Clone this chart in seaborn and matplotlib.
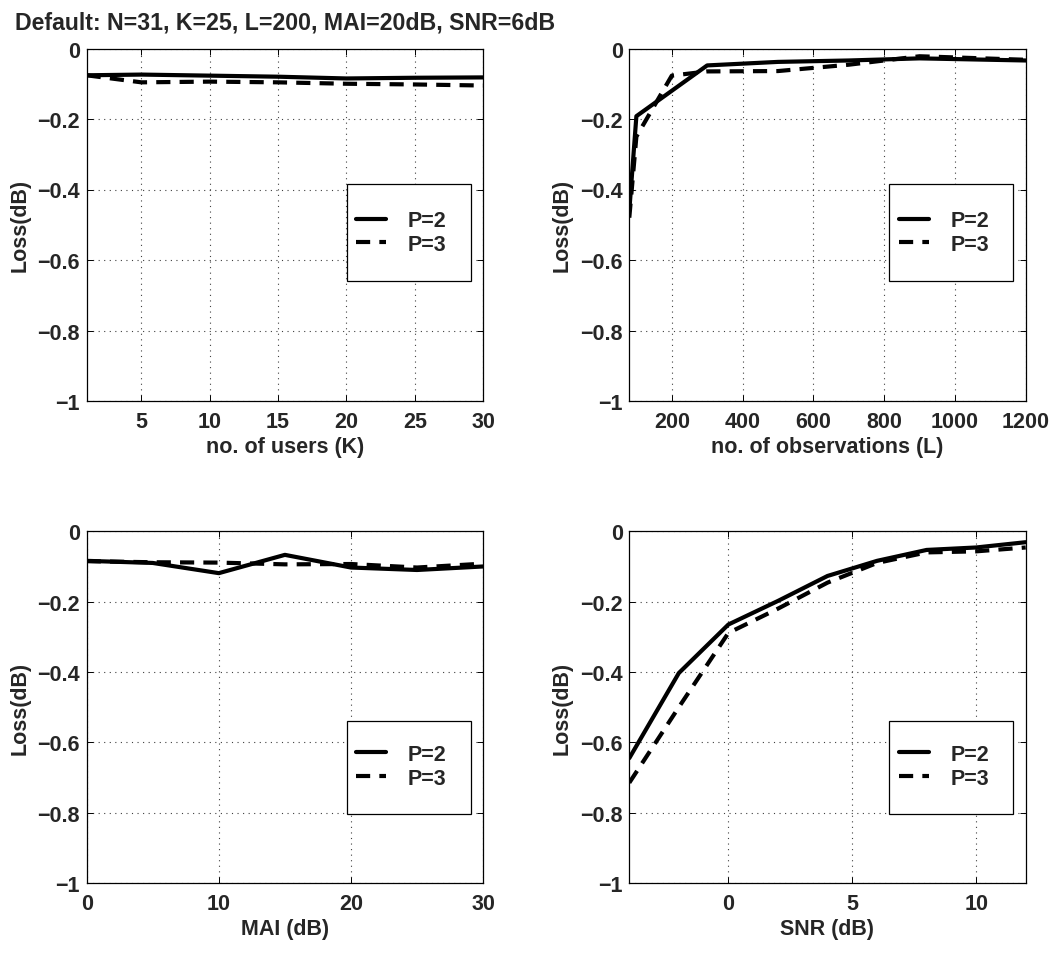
import numpy as np
import pandas as pd
import matplotlib
matplotlib.use("Agg")
import matplotlib.pyplot as plt
import seaborn as sns
from matplotlib.patches import Rectangle

# ---------------- data ----------------
title_text = "Default: N=31, K=25, L=200, MAI=20dB, SNR=6dB"
series_names = ["P=2", "P=3"]
y_label = "Loss(dB)"

users_K = [1, 5, 10, 15, 20, 25, 30]
loss_users_p2 = [-0.076, -0.074, -0.077, -0.080, -0.085, -0.083, -0.082]
loss_users_p3 = [-0.076, -0.096, -0.094, -0.096, -0.100, -0.102, -0.105]

obs_L = [80, 100, 200, 300, 500, 700, 900, 1200]
loss_obs_p2 = [-0.46, -0.192, -0.120, -0.048, -0.038, -0.034, -0.028, -0.034]
loss_obs_p3 = [-0.48, -0.250, -0.077, -0.065, -0.064, -0.046, -0.022, -0.032]

mai_dB = [0, 5, 10, 15, 20, 25, 30]
loss_mai_p2 = [-0.084, -0.090, -0.119, -0.067, -0.103, -0.110, -0.100]
loss_mai_p3 = [-0.085, -0.088, -0.089, -0.094, -0.093, -0.103, -0.092]

snr_dB = [-4, -2, 0, 2, 4, 6, 8, 10, 12]
loss_snr_p2 = [-0.645, -0.403, -0.265, -0.198, -0.127, -0.084, -0.053, -0.046, -0.031]
loss_snr_p3 = [-0.715, -0.500, -0.289, -0.220, -0.146, -0.090, -0.060, -0.057, -0.046]

y_ticks = [-1, -0.8, -0.6, -0.4, -0.2, 0]
y_tick_labels = ["\u22121", "\u22120.8", "\u22120.6", "\u22120.4", "\u22120.2", "0"]
users_ticks = [5, 10, 15, 20, 25, 30]
obs_ticks = [200, 400, 600, 800, 1000, 1200]
mai_ticks = [0, 10, 20, 30]
snr_ticks = [0, 5, 10]
x_labels = ["no. of users (K)", "no. of observations (L)", "MAI (dB)", "SNR (dB)"]

# ---------------- style ----------------
sns.set_style("ticks")
plt.rcParams["font.family"] = ["Liberation Sans", "DejaVu Sans"]
plt.rcParams["font.weight"] = "bold"
plt.rcParams["axes.labelweight"] = "bold"
plt.rcParams["axes.unicode_minus"] = True

FS = 15.5
fig = plt.figure(figsize=(10.55, 9.54), dpi=100)
W, H = 1055.0, 954.0

def fx(px):
    return px / W

def fy(py):
    return 1 - py / H

left_cols = [86.7, 629.3]
ax_w = 396.4
rows = [(49.5, 402.0), (532.3, 884.0)]

panels = [
    (users_K, loss_users_p2, loss_users_p3, users_ticks, (1, 30), x_labels[0], 0, 0),
    (obs_L, loss_obs_p2, loss_obs_p3, obs_ticks, (80, 1200), x_labels[1], 0, 1),
    (mai_dB, loss_mai_p2, loss_mai_p3, mai_ticks, (0, 30), x_labels[2], 1, 0),
    (snr_dB, loss_snr_p2, loss_snr_p3, snr_ticks, (-4, 12), x_labels[3], 1, 1),
]

# legend boxes (axes fraction)
legend_boxes = {
    0: dict(x0=0.656, x1=0.969, y0=0.340, y1=0.616, cy=0.478),
    1: dict(x0=0.656, x1=0.969, y0=0.196, y1=0.461, cy=0.332),
}

dash_p3 = (0, (3.4, 2.2))

for xs, s2, s3, xt, xl, xlab, r, c in panels:
    top, bot = rows[r]
    ax = fig.add_axes([fx(left_cols[c]), fy(bot), fx(ax_w), (bot - top) / H])
    df = pd.DataFrame({"x": list(xs) * 2,
                       "loss": list(s2) + list(s3),
                       "P": [series_names[0]] * len(xs) + [series_names[1]] * len(xs)})
    sns.lineplot(data=df[df.P == series_names[0]], x="x", y="loss", ax=ax,
                 color="black", lw=3.0, legend=False, errorbar=None, sort=False,
                 label=series_names[0])
    sns.lineplot(data=df[df.P == series_names[1]], x="x", y="loss", ax=ax,
                 color="black", lw=3.0, legend=False, errorbar=None, sort=False,
                 label=series_names[1], linestyle=dash_p3)
    ax.set_xlim(*xl)
    ax.set_ylim(-1, 0)
    ax.set_xticks(xt)
    ax.set_xticklabels([str(v) for v in xt])
    ax.set_yticks(y_ticks)
    ax.set_yticklabels(y_tick_labels)
    ax.grid(True, linestyle=(0, (1, 4)), color="0.25", lw=0.8)
    ax.tick_params(direction="in", top=True, right=True, length=4, width=0.7,
                   labelsize=FS, color="black")
    ax.tick_params(axis="x", pad=7)
    ax.tick_params(axis="y", pad=4.8)
    for lab in ax.get_xticklabels() + ax.get_yticklabels():
        lab.set_fontweight("bold")
    for sp in ax.spines.values():
        sp.set_linewidth(0.9)
        sp.set_color("black")
    ax.set_xlabel(xlab, fontsize=FS, fontweight="bold", labelpad=3)
    ax.set_ylabel(y_label, fontsize=FS, fontweight="bold", labelpad=5)

    lb = legend_boxes[r]
    ax.add_patch(Rectangle((lb["x0"], lb["y0"]), lb["x1"] - lb["x0"], lb["y1"] - lb["y0"],
                           transform=ax.transAxes, facecolor="white", edgecolor="black",
                           lw=0.9, zorder=4))
    handles, labels = ax.get_legend_handles_labels()
    leg = ax.legend(handles, labels, loc="center", bbox_to_anchor=(0.794, lb["cy"]),
                    frameon=False, borderpad=0, handlelength=1.4, handletextpad=1.0,
                    labelspacing=0.12, prop={"weight": "bold", "size": FS})
    leg.set_zorder(5)

fig.text(fx(15), fy(23), title_text, fontsize=16.7, fontweight="bold", va="center", ha="left")

fig.savefig("out.png", dpi=100)
